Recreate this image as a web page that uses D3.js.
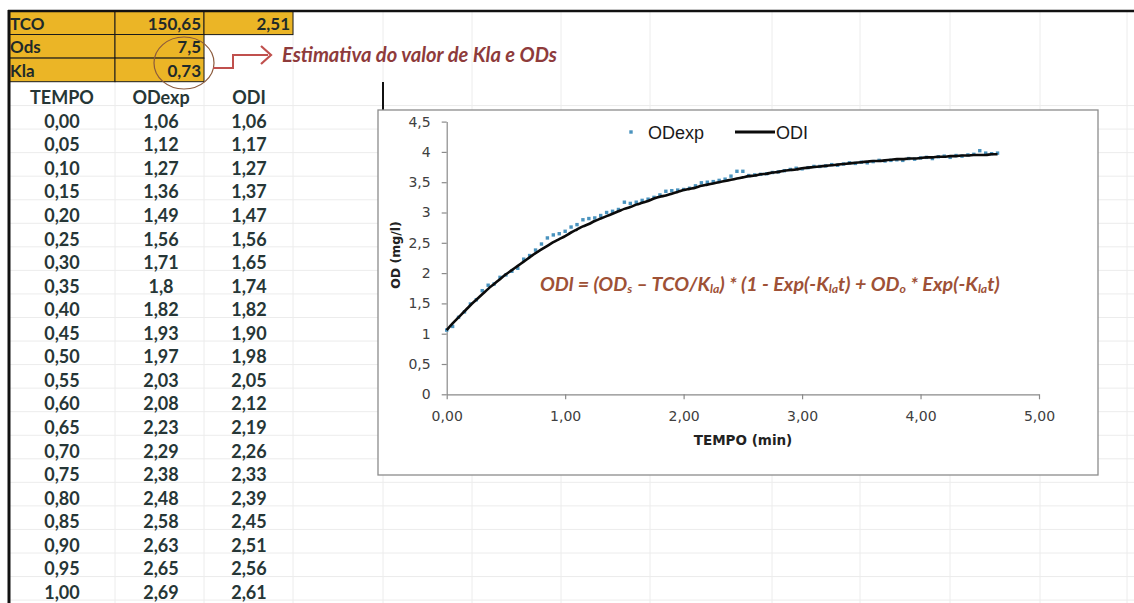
<!DOCTYPE html>
<html>
<head>
<meta charset="utf-8">
<script src="https://cdn.jsdelivr.net/npm/d3@7"></script>
<style>
  html, body { margin: 0; padding: 0; background: #ffffff; }
  svg { display: block; }
</style>
</head>
<body>
<svg id="sheet" width="1134" height="603"></svg>
<script>
// ---- Parameters of the aeration test ----
const paramLabels = ["TCO", "Ods", "Kla"];
const paramValues = [["150,65", "2,51"], ["7,5"], ["0,73"]];

// ---- Measured and modelled dissolved oxygen ----
const tableHeaders = ["TEMPO", "ODexp", "ODI"];
const tempo = [
  0.00, 0.05, 0.10, 0.15, 0.20, 0.25, 0.30, 0.35, 0.40, 0.45,
  0.50, 0.55, 0.60, 0.65, 0.70, 0.75, 0.80, 0.85, 0.90, 0.95,
  1.00, 1.05, 1.10, 1.15, 1.20, 1.25, 1.30, 1.35, 1.40, 1.45,
  1.50, 1.55, 1.60, 1.65, 1.70, 1.75, 1.80, 1.85, 1.90, 1.95,
  2.00, 2.05, 2.10, 2.15, 2.20, 2.25, 2.30, 2.35, 2.40, 2.45,
  2.50, 2.55, 2.60, 2.65, 2.70, 2.75, 2.80, 2.85, 2.90, 2.95,
  3.00, 3.05, 3.10, 3.15, 3.20, 3.25, 3.30, 3.35, 3.40, 3.45,
  3.50, 3.55, 3.60, 3.65, 3.70, 3.75, 3.80, 3.85, 3.90, 3.95,
  4.00, 4.05, 4.10, 4.15, 4.20, 4.25, 4.30, 4.35, 4.40, 4.45,
  4.50, 4.55, 4.60, 4.65
];
const odExp = [
  1.06, 1.12, 1.27, 1.36, 1.49, 1.56, 1.71, 1.8, 1.82, 1.93,
  1.97, 2.03, 2.08, 2.23, 2.29, 2.38, 2.48, 2.58, 2.63, 2.65,
  2.69, 2.76, 2.80, 2.88, 2.90, 2.91, 2.95, 3.00, 3.02, 3.05,
  3.17, 3.15, 3.17, 3.20, 3.22, 3.25, 3.29, 3.35, 3.36, 3.37,
  3.38, 3.40, 3.44, 3.49, 3.50, 3.51, 3.53, 3.55, 3.60, 3.68,
  3.68, 3.61, 3.62, 3.63, 3.64, 3.66, 3.67, 3.69, 3.71, 3.73,
  3.72, 3.74, 3.76, 3.76, 3.77, 3.79, 3.78, 3.80, 3.82, 3.81,
  3.83, 3.82, 3.84, 3.86, 3.85, 3.86, 3.87, 3.86, 3.89, 3.88,
  3.90, 3.91, 3.89, 3.92, 3.93, 3.91, 3.94, 3.93, 3.95, 3.96,
  4.02, 3.98, 3.97, 3.98
];
const odI = [
  1.06, 1.17, 1.27, 1.37, 1.47, 1.56, 1.65, 1.74, 1.82, 1.90,
  1.98, 2.05, 2.12, 2.19, 2.26, 2.33, 2.39, 2.45, 2.51, 2.56,
  2.61, 2.67, 2.72, 2.77, 2.81, 2.86, 2.90, 2.94, 2.98, 3.02,
  3.06, 3.09, 3.13, 3.16, 3.19, 3.23, 3.26, 3.28, 3.31, 3.34,
  3.37, 3.39, 3.41, 3.44, 3.46, 3.48, 3.50, 3.52, 3.54, 3.56,
  3.58, 3.60, 3.61, 3.63, 3.64, 3.66, 3.67, 3.69, 3.70, 3.71,
  3.73, 3.74, 3.75, 3.76, 3.77, 3.78, 3.79, 3.80, 3.81, 3.82,
  3.83, 3.84, 3.85, 3.85, 3.86, 3.87, 3.88, 3.88, 3.89, 3.89,
  3.90, 3.91, 3.91, 3.92, 3.92, 3.93, 3.93, 3.94, 3.94, 3.95,
  3.95, 3.95, 3.96, 3.96
];
const tableRowCount = 21;   // rows listed in the sheet (0,00 .. 1,00)

// ---- Axis ticks ----
const xTicks = [0, 1, 2, 3, 4, 5];
const yTicks = [0, 0.5, 1, 1.5, 2, 2.5, 3, 3.5, 4, 4.5];

const svg = d3.select("#sheet");
const comma = s => s.replace(".", ",");

// ---- Spreadsheet grid ----
const grid = svg.append("g").attr("stroke", "#ececec").attr("stroke-width", 1);
const colLines = [115, 204, 293, 383, 472, 561, 650, 772, 860, 950, 1040, 1127];
colLines.forEach(cx => grid.append("line").attr("x1", cx).attr("x2", cx).attr("y1", 11).attr("y2", 603));
for (let yy = 82 + 23.55; yy < 603; yy += 23.55) {
  grid.append("line").attr("x1", 9).attr("x2", 1134).attr("y1", yy).attr("y2", yy);
}

// ---- Parameter cells (yellow block) ----
const cellFont = "Lato, 'Open Sans', sans-serif";
const rowTops = [11, 34.5, 58.1];
const rowH = 23.6;
const colA = [9, 115], colB = [115, 204], colC = [204, 293];
const pg = svg.append("g");
paramLabels.forEach((lab, i) => {
  const cells = [colA, colB].concat(i === 0 ? [colC] : []);
  cells.forEach(c => {
    pg.append("rect").attr("x", c[0]).attr("y", rowTops[i])
      .attr("width", c[1] - c[0]).attr("height", rowH)
      .attr("fill", "#EBB526").attr("stroke", "#1a1a1a").attr("stroke-width", 1);
  });
  const base = rowTops[i] + rowH - 5;
  pg.append("text").attr("x", 10).attr("y", base).text(lab)
    .attr("font-family", cellFont).attr("font-weight", 700).attr("font-size", 17).attr("fill", "#1e2a2a");
  paramValues[i].forEach((v, j) => {
    const c = j === 0 ? colB : colC;
    pg.append("text").attr("x", c[1] - 3).attr("y", base).attr("text-anchor", "end").text(v)
      .attr("font-family", cellFont).attr("font-weight", 700).attr("font-size", 17).attr("fill", "#1e2a2a");
  });
});

// ---- Data table ----
const colCenters = [62, 161, 249];
const tg = svg.append("g").attr("font-family", cellFont).attr("font-weight", 700)
  .attr("font-size", 18).attr("fill", "#263636").attr("text-anchor", "middle");
tableHeaders.forEach((h, j) => tg.append("text").attr("x", colCenters[j]).attr("y", 103.5).text(h));
const rows = d3.range(tableRowCount).map(i => [
  comma(tempo[i].toFixed(2)),
  comma(String(odExp[i])),
  comma(odI[i].toFixed(2))
]);
rows.forEach((r, i) => {
  r.forEach((s, j) => tg.append("text").attr("x", colCenters[j]).attr("y", 127.8 + 23.55 * i).text(s));
});

// ---- Sheet borders ----
svg.append("line").attr("x1", 8).attr("x2", 1134).attr("y1", 11).attr("y2", 11)
  .attr("stroke", "#111").attr("stroke-width", 2.5);
svg.append("line").attr("x1", 9).attr("x2", 9).attr("y1", 10).attr("y2", 603)
  .attr("stroke", "#111").attr("stroke-width", 3);
svg.append("line").attr("x1", 383).attr("x2", 383).attr("y1", 82).attr("y2", 110)
  .attr("stroke", "#111").attr("stroke-width", 2);

// ---- Annotation: circle and arrow to the note ----
svg.append("ellipse").attr("cx", 184).attr("cy", 63).attr("rx", 30).attr("ry", 26)
  .attr("fill", "none").attr("stroke", "#8B5A3C").attr("stroke-width", 1.2);
svg.append("path").attr("d", "M213,68 H233 V55 H268")
  .attr("fill", "none").attr("stroke", "#C0504D").attr("stroke-width", 2);
svg.append("path").attr("d", "M261,46 L271,55 L261,64")
  .attr("fill", "none").attr("stroke", "#C0504D").attr("stroke-width", 2.2);
const note = svg.append("text").attr("x", 282).attr("y", 62)
  .attr("font-family", cellFont).attr("font-weight", 700).attr("font-style", "italic")
  .attr("font-size", 17).attr("fill", "#8E3B3B").text("Estimativa do valor de Kla e ODs");
{
  const w = note.node().getComputedTextLength();
  note.attr("font-size", 17 * 275 / w);
}

// ---- Chart ----
const box = { x0: 378, y0: 110, x1: 1098, y1: 475 };
svg.append("rect").attr("x", box.x0).attr("y", box.y0)
  .attr("width", box.x1 - box.x0).attr("height", box.y1 - box.y0)
  .attr("fill", "#ffffff").attr("stroke", "#8c8c8c").attr("stroke-width", 1.3);

const x = d3.scaleLinear().domain([0, 5]).range([446.7, 1039]);
const y = d3.scaleLinear().domain([0, 4.5]).range([394.3, 121.6]);
const axisFont = "'DejaVu Sans', Verdana, sans-serif";

const xAxis = svg.append("g").attr("transform", `translate(0,${y(0)})`)
  .call(d3.axisBottom(x).tickValues(xTicks).tickSize(5).tickSizeOuter(0).tickPadding(12)
    .tickFormat(d => comma(d.toFixed(2))));
const yAxis = svg.append("g").attr("transform", `translate(${x(0)},0)`)
  .call(d3.axisLeft(y).tickValues(yTicks).tickSize(5).tickSizeOuter(0).tickPadding(11)
    .tickFormat(d => comma(String(d))));
[xAxis, yAxis].forEach(a => {
  a.select(".domain").attr("stroke", "#8a8a8a").attr("stroke-width", 1.2);
  a.selectAll(".tick line").attr("stroke", "#8a8a8a").attr("stroke-width", 1.2);
  a.selectAll(".tick text").attr("font-family", axisFont).attr("font-size", 14).attr("fill", "#404040");
});

svg.append("text").attr("x", 743).attr("y", 445).attr("text-anchor", "middle")
  .attr("font-family", axisFont).attr("font-weight", 700).attr("font-size", 13.5)
  .attr("fill", "#222").text("TEMPO (min)");
svg.append("text").attr("transform", "translate(400,255) rotate(-90)").attr("text-anchor", "middle")
  .attr("font-family", axisFont).attr("font-weight", 700).attr("font-size", 12.5)
  .attr("fill", "#222").text("OD (mg/l)");

const points = tempo.map((t, i) => ({ t, exp: odExp[i], mod: odI[i] }));

// measured points
const ms = 3.4;
svg.append("g").selectAll("rect").data(points).join("rect")
  .attr("x", d => x(d.t) - ms / 2).attr("y", d => y(d.exp) - ms / 2)
  .attr("width", ms).attr("height", ms).attr("fill", "#4A93BE");

// model curve
svg.append("path").datum(points)
  .attr("d", d3.line().x(d => x(d.t)).y(d => y(d.mod)).curve(d3.curveMonotoneX))
  .attr("fill", "none").attr("stroke", "#0b0b0b").attr("stroke-width", 2.6);

// legend
const legFont = "'Liberation Sans', Arial, sans-serif";
svg.append("rect").attr("x", 631 - ms / 2).attr("y", 132 - ms / 2).attr("width", ms).attr("height", ms).attr("fill", "#4A93BE");
svg.append("text").attr("x", 648).attr("y", 139).attr("font-family", legFont).attr("font-size", 18)
  .attr("fill", "#1a1a1a").text("ODexp");
svg.append("line").attr("x1", 735).attr("x2", 775).attr("y1", 132).attr("y2", 132)
  .attr("stroke", "#0b0b0b").attr("stroke-width", 3);
svg.append("text").attr("x", 776).attr("y", 139).attr("font-family", legFont).attr("font-size", 18)
  .attr("fill", "#1a1a1a").text("ODI");

// model equation
const eq = svg.append("text").attr("x", 540).attr("y", 291)
  .attr("font-family", cellFont).attr("font-weight", 700).attr("font-style", "italic")
  .attr("font-size", 17).attr("fill", "#9E5136");
const eqParts = [
  ["ODl = (OD", false], ["s", true], [" \u2013 TCO/K", false], ["la", true],
  [") * (1 - Exp(-K", false], ["la", true], ["t) + OD", false], ["o", true],
  [" * Exp(-K", false], ["la", true], ["t)", false]
];
eqParts.forEach(([s, sub]) => {
  const ts = eq.append("tspan").text(s);
  if (sub) ts.attr("font-size", "62%").attr("baseline-shift", "-18%");
});
{
  const w = eq.node().getComputedTextLength();
  eq.attr("font-size", 17 * 460 / w);
}
</script>
</body>
</html>
